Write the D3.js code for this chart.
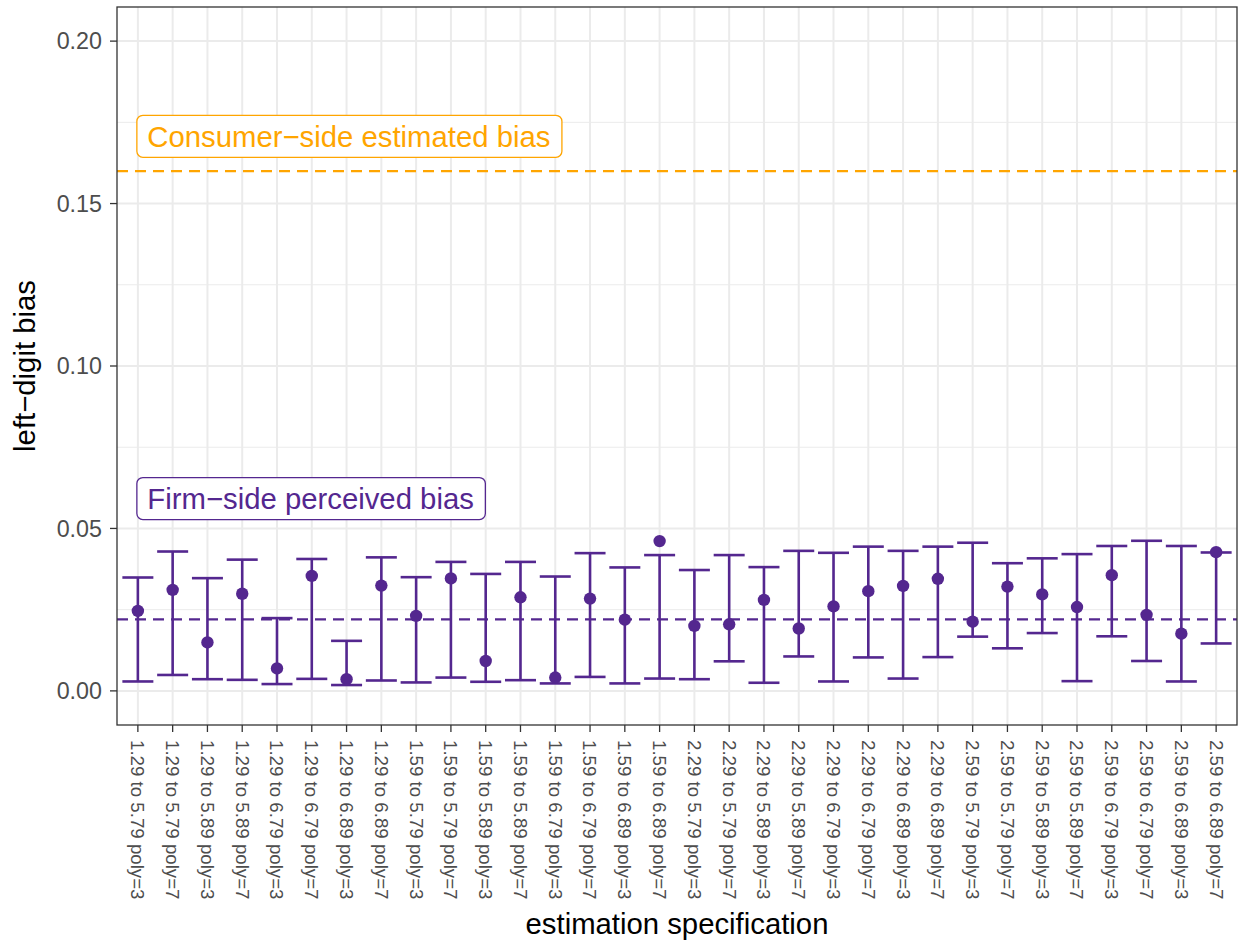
<!DOCTYPE html>
<html><head><meta charset="utf-8">
<script src="https://cdn.jsdelivr.net/npm/d3@7"></script>
<style>body{margin:0;background:#fff;} text{font-family:"Liberation Sans",Arial,Helvetica,sans-serif;}</style>
</head><body>
<svg id="chart" width="1238" height="942"></svg>
<script>
const categories = [
 "1.29 to 5.79 poly=3","1.29 to 5.79 poly=7","1.29 to 5.89 poly=3","1.29 to 5.89 poly=7",
 "1.29 to 6.79 poly=3","1.29 to 6.79 poly=7","1.29 to 6.89 poly=3","1.29 to 6.89 poly=7",
 "1.59 to 5.79 poly=3","1.59 to 5.79 poly=7","1.59 to 5.89 poly=3","1.59 to 5.89 poly=7",
 "1.59 to 6.79 poly=3","1.59 to 6.79 poly=7","1.59 to 6.89 poly=3","1.59 to 6.89 poly=7",
 "2.29 to 5.79 poly=3","2.29 to 5.79 poly=7","2.29 to 5.89 poly=3","2.29 to 5.89 poly=7",
 "2.29 to 6.79 poly=3","2.29 to 6.79 poly=7","2.29 to 6.89 poly=3","2.29 to 6.89 poly=7",
 "2.59 to 5.79 poly=3","2.59 to 5.79 poly=7","2.59 to 5.89 poly=3","2.59 to 5.89 poly=7",
 "2.59 to 6.79 poly=3","2.59 to 6.79 poly=7","2.59 to 6.89 poly=3","2.59 to 6.89 poly=7"
];
const estimates = [0.0246,0.0311,0.0149,0.0299,0.0069,0.0354,0.0036,0.0324,
 0.0231,0.0346,0.0092,0.0288,0.0041,0.0284,0.0219,0.0461,
 0.0200,0.0205,0.0280,0.0192,0.0260,0.0307,0.0323,0.0345,
 0.0213,0.0321,0.0297,0.0258,0.0356,0.0234,0.0176,0.0427];
const upper = [0.0349,0.0429,0.0347,0.0404,0.0224,0.0406,0.0154,0.0411,
 0.0350,0.0397,0.0360,0.0397,0.0352,0.0424,0.0380,0.0418,
 0.0372,0.0418,0.0381,0.0431,0.0425,0.0444,0.0431,0.0444,
 0.0456,0.0393,0.0408,0.0421,0.0446,0.0462,0.0446,0.0426];
const lower = [0.0029,0.0049,0.0036,0.0034,0.0021,0.0037,0.0018,0.0032,
 0.0026,0.0041,0.0028,0.0033,0.0023,0.0043,0.0023,0.0038,
 0.0036,0.0091,0.0025,0.0106,0.0029,0.0103,0.0038,0.0104,
 0.0167,0.0131,0.0178,0.0030,0.0168,0.0092,0.0029,0.0146];
const yTicks = [0.00,0.05,0.10,0.15,0.20];
const yMinor = [0.025,0.075,0.125,0.175];
const consumerBias = 0.16;
const firmBias = 0.022;
const consumerLabel = "Consumer\u2212side estimated bias";
const firmLabel = "Firm\u2212side perceived bias";
const consumerLabelY = 0.1707;
const firmLabelY = 0.0592;

const purple = "#54278F", orange = "#FFA500";
const svg = d3.select("#chart");
const L = 117, R = 1237, T = 7, B = 725;

const x = d3.scalePoint().domain(categories).range([L, R]).padding(0.6);
const y = d3.scaleLinear().domain([-0.0105, 0.2105]).range([B, T]);

// grid
const g = svg.append("g");
g.selectAll(".ymin").data(yMinor).enter().append("line")
 .attr("x1", L).attr("x2", R).attr("y1", d=>y(d)).attr("y2", d=>y(d))
 .attr("stroke", "#EBEBEB").attr("stroke-width", 1);
g.selectAll(".ymaj").data(yTicks).enter().append("line")
 .attr("x1", L).attr("x2", R).attr("y1", d=>y(d)).attr("y2", d=>y(d))
 .attr("stroke", "#EBEBEB").attr("stroke-width", 2);
g.selectAll(".xmaj").data(categories).enter().append("line")
 .attr("x1", d=>x(d)).attr("x2", d=>x(d)).attr("y1", T).attr("y2", B)
 .attr("stroke", "#EBEBEB").attr("stroke-width", 2);

// reference lines
svg.append("line").attr("x1", L).attr("x2", R).attr("y1", y(consumerBias)).attr("y2", y(consumerBias))
 .attr("stroke", orange).attr("stroke-width", 2.2).attr("stroke-dasharray", "11,7");
svg.append("line").attr("x1", L).attr("x2", R).attr("y1", y(firmBias)).attr("y2", y(firmBias))
 .attr("stroke", purple).attr("stroke-width", 2.2).attr("stroke-dasharray", "11,7");

// error bars
const capW = 31;
const eb = svg.append("g");
categories.forEach((c,i)=>{
  const cx = x(c);
  eb.append("line").attr("x1",cx).attr("x2",cx).attr("y1",y(lower[i])).attr("y2",y(upper[i]))
    .attr("stroke",purple).attr("stroke-width",2.6);
  eb.append("line").attr("x1",cx-capW/2).attr("x2",cx+capW/2).attr("y1",y(lower[i])).attr("y2",y(lower[i]))
    .attr("stroke",purple).attr("stroke-width",2.6);
  eb.append("line").attr("x1",cx-capW/2).attr("x2",cx+capW/2).attr("y1",y(upper[i])).attr("y2",y(upper[i]))
    .attr("stroke",purple).attr("stroke-width",2.6);
});
svg.append("g").selectAll("circle").data(categories).enter().append("circle")
 .attr("cx", d=>x(d)).attr("cy", (d,i)=>y(estimates[i])).attr("r", 6.2).attr("fill", purple);

// labels
function addLabel(text, yv, color){
  const gx = x(categories[0]) - 1.5;
  const lg = svg.append("g");
  const t = lg.append("text").attr("x", gx+11).attr("y", y(yv)).attr("dy","0.35em")
   .attr("font-size", 29.3).attr("fill", color).text(text);
  const bb = t.node().getBBox();
  lg.insert("rect","text").attr("x", gx+0.5).attr("y", y(yv)-21).attr("width", bb.width+22).attr("height", 42)
   .attr("rx", 6).attr("fill","#fff").attr("stroke", color).attr("stroke-width",1.3);
}
addLabel(consumerLabel, consumerLabelY, orange);
addLabel(firmLabel, firmLabelY, purple);

// panel border
svg.append("rect").attr("x", L).attr("y", T).attr("width", R-L).attr("height", B-T)
 .attr("fill","none").attr("stroke","#333333").attr("stroke-width",1.3);

// y axis
const ya = svg.append("g");
ya.selectAll("line").data(yTicks).enter().append("line")
 .attr("x1", L-7).attr("x2", L).attr("y1", d=>y(d)).attr("y2", d=>y(d)).attr("stroke","#333").attr("stroke-width",1.3);
ya.selectAll("text").data(yTicks).enter().append("text")
 .attr("x", 102).attr("y", d=>y(d)).attr("dy","0.35em").attr("text-anchor","end")
 .attr("font-size", 23.3).attr("fill","#4D4D4D").text(d=>d3.format(".2f")(d));

// x axis
const xa = svg.append("g");
xa.selectAll("line").data(categories).enter().append("line")
 .attr("x1", d=>x(d)).attr("x2", d=>x(d)).attr("y1", B).attr("y2", B+7).attr("stroke","#333").attr("stroke-width",1.3);
xa.selectAll("text").data(categories).enter().append("text")
 .attr("transform", d=>`translate(${x(d)},${B+15}) rotate(90)`)
 .attr("dy","0.35em").attr("text-anchor","start")
 .attr("font-size", 18.7).attr("fill","#4D4D4D").text(d=>d);

// titles
svg.append("text").attr("x", (L+R)/2).attr("y", 934).attr("text-anchor","middle")
 .attr("font-size", 29.3).attr("fill","#000").text("estimation specification");
svg.append("text").attr("transform", `translate(35,${(T+B)/2}) rotate(-90)`).attr("text-anchor","middle")
 .attr("font-size", 29.3).attr("fill","#000").text("left\u2212digit bias");
</script>
</body></html>
